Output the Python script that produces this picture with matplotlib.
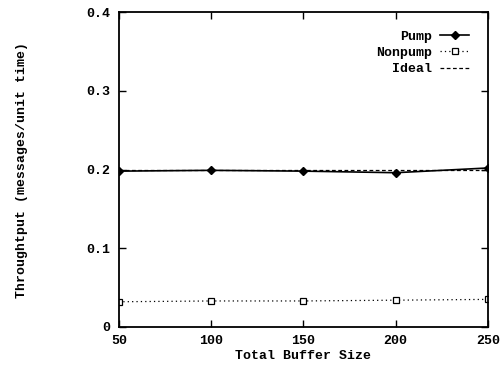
import matplotlib
matplotlib.use("Agg")
import matplotlib.pyplot as plt

plt.rcParams["font.family"] = ["Liberation Mono", "DejaVu Sans Mono"]
plt.rcParams["font.weight"] = "bold"

buffer_sizes = [50, 100, 150, 200, 250]
pump = [0.198, 0.199, 0.198, 0.196, 0.202]
nonpump = [0.032, 0.033, 0.033, 0.034, 0.035]
ideal = [0.2, 0.2, 0.2, 0.2, 0.2]

x_ticks = [50, 100, 150, 200, 250]
y_ticks = [0, 0.1, 0.2, 0.3, 0.4]
y_tick_labels = ["0", "0.1", "0.2", "0.3", "0.4"]

fig = plt.figure(figsize=(5.04, 3.69), dpi=100)
ax = fig.add_axes([0.236, 0.114, 0.732, 0.853])

ax.plot(buffer_sizes, pump, color="black", linewidth=1.2, marker="D",
        markersize=4, markerfacecolor="black", label="Pump")
ax.plot(buffer_sizes, nonpump, color="black", linewidth=0.9, linestyle=(0, (1, 2.5)),
        marker="s", markersize=5, markerfacecolor="white", markeredgewidth=0.9,
        label="Nonpump")
ax.plot(buffer_sizes, ideal, color="black", linewidth=0.9, linestyle=(0, (3, 2)),
        label="Ideal")

ax.set_xlim(50, 250)
ax.set_ylim(0, 0.4)
ax.set_xticks(x_ticks)
ax.set_yticks(y_ticks)
ax.set_yticklabels(y_tick_labels)
ax.tick_params(direction="in", top=True, right=True, length=5, width=1,
               labelsize=9.5, pad=6)
for spine in ax.spines.values():
    spine.set_linewidth(1.3)

ax.set_xlabel("Total Buffer Size", fontsize=9.5, fontweight="bold", labelpad=2)
ax.set_ylabel("Throughtput (messages/unit time)", fontsize=9.5,
              fontweight="bold", labelpad=42)

ax.legend(loc="upper right", frameon=False, markerfirst=False, fontsize=9.5,
          handlelength=2.2, handletextpad=0.6, labelspacing=0.3,
          borderaxespad=1.0)

fig.savefig("out.png", dpi=100)
